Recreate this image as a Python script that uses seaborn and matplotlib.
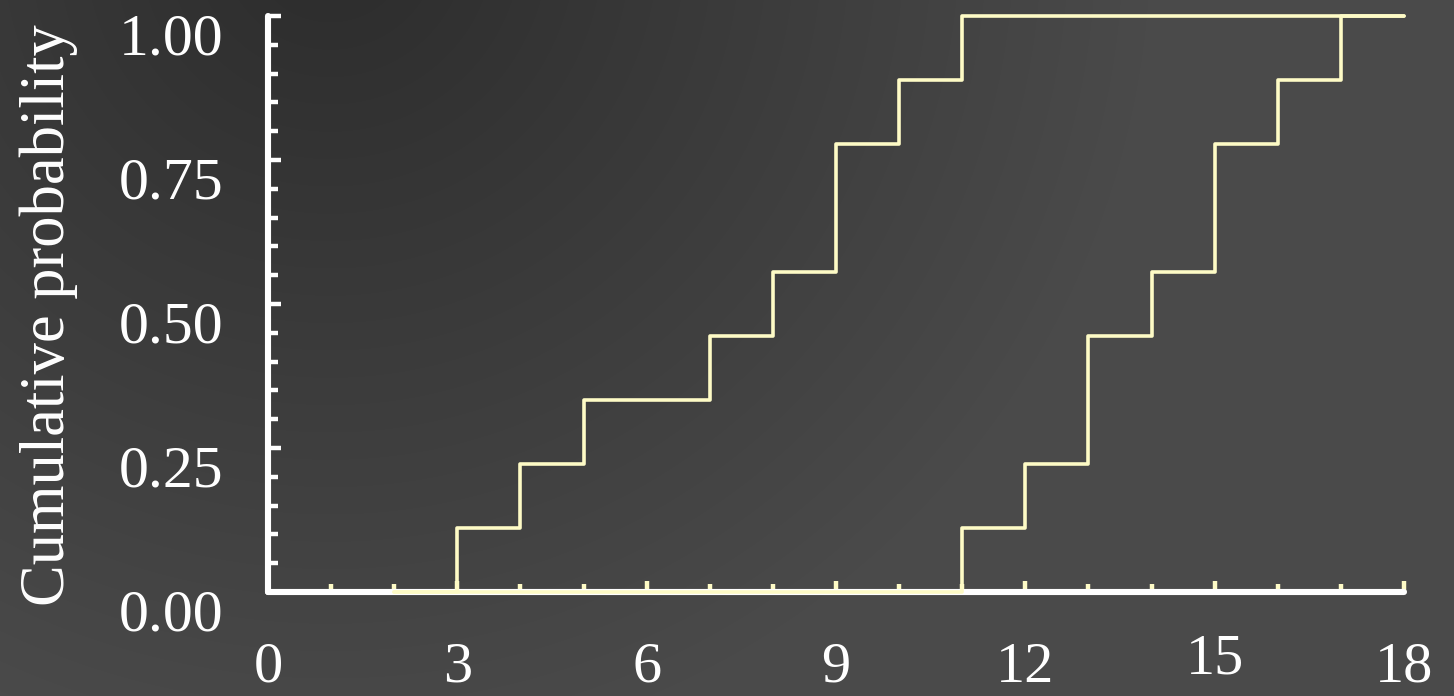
import numpy as np
import pandas as pd
import matplotlib
matplotlib.use("Agg")
import matplotlib.pyplot as plt
import matplotlib.transforms as mtransforms
from matplotlib.ticker import MultipleLocator, FixedLocator, FuncFormatter
import seaborn as sns

# Observed values for the two groups
group_a = [3, 4, 5, 7, 8, 9, 9, 10, 11]
group_b = [11, 12, 13, 13, 14, 15, 15, 16, 17]
series_names = ["A", "B"]

x_start = 2
x_end = 18
x_ticks = [0, 3, 6, 9, 12, 15, 18]
y_ticks = [0.0, 0.25, 0.5, 0.75, 1.0]

LINE = "#fefbc6"
WHITE = "#ffffff"

sns.set_theme(style="white")
plt.rcParams["font.family"] = ["Liberation Serif", "DejaVu Serif"]


def ecdf_frame(values, name):
    vals, counts = np.unique(np.asarray(values, dtype=float), return_counts=True)
    prob = np.cumsum(counts) / counts.sum()
    xs = np.r_[x_start, vals, x_end]
    ps = np.r_[0.0, prob, 1.0]
    return pd.DataFrame({"value": xs, "prob": ps, "series": name})


df = pd.concat([ecdf_frame(group_a, series_names[0]),
                ecdf_frame(group_b, series_names[1])], ignore_index=True)

W, H, DPI = 1454, 696, 100
fig = plt.figure(figsize=(W / DPI, H / DPI), dpi=DPI)

# Soft radial backdrop, darkest toward the upper left
bg = fig.add_axes([0, 0, 1, 1], zorder=-10)
yy, xx = np.mgrid[0:H, 0:W]
d = np.clip(np.hypot(xx - 330, yy + 60) / 820.0, 0, 1)
shade = (0x2c + (0x4a - 0x2c) * d) / 255.0
bg.imshow(np.dstack([shade, shade, shade]), aspect="auto", extent=[0, 1, 0, 1])
bg.set_axis_off()

ax = fig.add_axes([268 / W, 104 / H, 1136 / W, 576 / H])
ax.set_facecolor("none")

for name in series_names:
    sns.lineplot(data=df[df["series"] == name], x="value", y="prob",
                 estimator=None, sort=False, drawstyle="steps-post",
                 color=LINE, linewidth=2.6, ax=ax, legend=False,
                 zorder=3, clip_on=False)

ax.set_xlim(0, 18)
ax.set_ylim(0, 1.0)

for side in ["top", "right"]:
    ax.spines[side].set_visible(False)
for side in ["left", "bottom"]:
    ax.spines[side].set_color(WHITE)
    ax.spines[side].set_linewidth(4.4)
    ax.spines[side].set_capstyle("round")

ax.xaxis.set_major_locator(FixedLocator(x_ticks))
ax.xaxis.set_minor_locator(MultipleLocator(1))
ax.yaxis.set_major_locator(FixedLocator(y_ticks))
ax.yaxis.set_minor_locator(MultipleLocator(0.05))
ax.yaxis.set_major_formatter(FuncFormatter(lambda v, p: f"{v:.2f}"))

ax.tick_params(which="both", bottom=True, left=True, top=False, right=False)
ax.tick_params(axis="y", which="major", direction="in", length=9, width=3.2,
               color=WHITE, labelcolor=WHITE, labelsize=43, pad=32)
ax.tick_params(axis="y", which="minor", direction="in", length=7, width=3.2,
               color=WHITE)
ax.tick_params(axis="x", which="major", direction="in", length=8, width=3.2,
               color=LINE, labelcolor=WHITE, labelsize=42, pad=36)
ax.tick_params(axis="x", which="minor", direction="in", length=6, width=3.2,
               color=LINE)

ax.set_xlabel("")
ax.set_ylabel("Cumulative probability", fontsize=45, color=WHITE)
ax.yaxis.set_label_coords(-0.193, 0.48)
ax.yaxis.label.set_verticalalignment("center")

# Numeric y labels sit slightly below their ticks
shift = mtransforms.ScaledTranslation(0, -18 / DPI, fig.dpi_scale_trans)
for lab in ax.get_yticklabels():
    lab.set_transform(lab.get_transform() + shift)
lift = mtransforms.ScaledTranslation(0, 9 / DPI, fig.dpi_scale_trans)
for lab in ax.get_xticklabels():
    if lab.get_text() == "15":
        lab.set_transform(lab.get_transform() + lift)

fig.savefig("out.png", dpi=DPI)
